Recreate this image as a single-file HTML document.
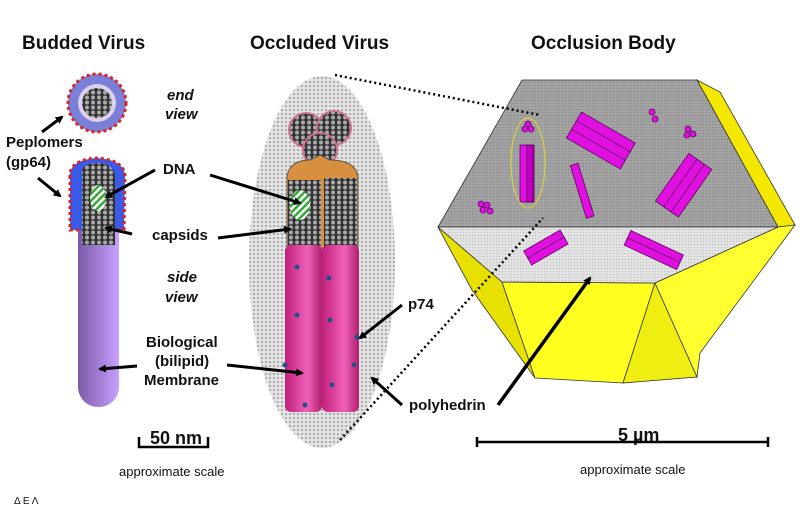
<!DOCTYPE html>
<html><head><meta charset="utf-8"><style>
html,body{margin:0;padding:0;background:#fff}
svg{display:block}
text{font-family:"Liberation Sans",Arial,sans-serif;fill:#111}
.t{font-size:19px;font-weight:bold}
.l{font-size:15px;font-weight:bold}
</style></head><body>
<svg width="800" height="522" viewBox="0 0 800 522" xmlns="http://www.w3.org/2000/svg">
<defs>
<pattern id="dots" width="4" height="4" patternUnits="userSpaceOnUse"><rect width="4" height="4" fill="#e8e8e8"/><circle cx="2" cy="2" r="1.3" fill="#b0b0b0"/></pattern>
<pattern id="dark" width="3" height="3" patternUnits="userSpaceOnUse"><rect width="3" height="3" fill="#a4a4a4"/><circle cx="1.5" cy="1.5" r="0.8" fill="#8a8a8a"/></pattern>
<pattern id="light" width="3" height="3" patternUnits="userSpaceOnUse"><rect width="3" height="3" fill="#e4e4e4"/><circle cx="1.5" cy="1.5" r="0.8" fill="#c4c4c4"/></pattern>
<pattern id="cap" width="6" height="5" patternUnits="userSpaceOnUse"><rect width="6" height="5" fill="#333"/><circle cx="3" cy="2.5" r="2" fill="#aaa"/></pattern>
<pattern id="stripe" width="5" height="5" patternUnits="userSpaceOnUse" patternTransform="rotate(45)"><rect width="5" height="5" fill="#fff"/><rect width="2.5" height="5" fill="#3a3"/></pattern>
<linearGradient id="pur" x1="0" x2="1"><stop offset="0" stop-color="#7a5aa8"/><stop offset="1" stop-color="#c8a0ff"/></linearGradient>
<linearGradient id="mag" x1="0" x2="1"><stop offset="0" stop-color="#c0207a"/><stop offset="0.6" stop-color="#f060b8"/><stop offset="1" stop-color="#b0206e"/></linearGradient>
<marker id="ar" markerWidth="8" markerHeight="8" refX="6" refY="4" orient="auto" markerUnits="userSpaceOnUse" viewBox="0 0 8 8"><path d="M0,0 L8,4 L0,8 z" fill="#000"/></marker>
</defs>

<text class="t" x="22" y="49">Budded Virus</text>
<text class="t" x="250" y="49">Occluded Virus</text>
<text class="t" x="531" y="49">Occlusion Body</text>

<circle cx="97" cy="103" r="29" fill="#7a80d8" stroke="#e02020" stroke-width="3" stroke-dasharray="3 3"/>
<circle cx="97" cy="103" r="19" fill="#dcd0ec"/>
<circle cx="97" cy="103" r="15" fill="url(#cap)"/>
<text x="167" y="100" class="l" font-style="italic">end</text>
<text x="165" y="119" class="l" font-style="italic">view</text>
<text x="167" y="282" class="l" font-style="italic">side</text>
<text x="165" y="302" class="l" font-style="italic">view</text>

<rect x="78" y="175" width="41" height="232" rx="20" fill="url(#pur)"/>
<path d="M70,178 Q68,160 97,158 Q126,160 125,178 L124,230 L70,230 z" fill="#3a5ae8" stroke="#e02020" stroke-width="3" stroke-dasharray="3 3"/>
<path d="M82,170 Q84,163 100,163 Q115,165 115,178 L115,245 L82,245 z" fill="url(#cap)"/>
<ellipse cx="98" cy="198" rx="8" ry="13" fill="url(#stripe)"/>

<text class="l" x="6" y="147">Peplomers</text>
<text class="l" x="6" y="167">(gp64)</text>
<line x1="42" y1="132" x2="62" y2="117" stroke="#000" stroke-width="3" marker-end="url(#ar)"/>
<line x1="38" y1="178" x2="60" y2="196" stroke="#000" stroke-width="3" marker-end="url(#ar)"/>

<ellipse cx="322" cy="262" rx="73" ry="186" fill="url(#dots)"/>
<circle cx="306" cy="130" r="17" fill="url(#cap)" stroke="#d07090" stroke-width="2"/>
<circle cx="334" cy="128" r="17" fill="url(#cap)" stroke="#d07090" stroke-width="2"/>
<circle cx="320" cy="150" r="17" fill="url(#cap)" stroke="#d07090" stroke-width="2"/>
<path d="M287,176 Q290,160 310,160 L320,155 L330,160 Q355,160 358,176 L358,248 L287,248 z" fill="#d89040" stroke="#555"/>
<rect x="288" y="180" width="33" height="68" fill="url(#cap)"/>
<rect x="324" y="178" width="33" height="70" fill="url(#cap)"/>
<ellipse cx="300" cy="205" rx="10" ry="15" fill="url(#stripe)"/>
<rect x="285" y="245" width="37" height="167" rx="6" fill="url(#mag)"/>
<rect x="322" y="245" width="37" height="167" rx="6" fill="url(#mag)"/>
<g fill="#24508a"><circle cx="297" cy="267" r="2.5"/><circle cx="329" cy="278" r="2.5"/><circle cx="297" cy="315" r="2.5"/><circle cx="330" cy="320" r="2.5"/><circle cx="357" cy="337" r="2.5"/><circle cx="285" cy="365" r="2.5"/><circle cx="354" cy="365" r="2.5"/><circle cx="332" cy="385" r="2.5"/><circle cx="305" cy="405" r="2.5"/></g>

<text class="l" x="163" y="174">DNA</text>
<line x1="155" y1="170" x2="106" y2="197" stroke="#000" stroke-width="3" marker-end="url(#ar)"/>
<line x1="210" y1="175" x2="300" y2="203" stroke="#000" stroke-width="3" marker-end="url(#ar)"/>
<text class="l" x="152" y="240">capsids</text>
<line x1="132" y1="234" x2="106" y2="228" stroke="#000" stroke-width="3" marker-end="url(#ar)"/>
<line x1="218" y1="238" x2="290" y2="229" stroke="#000" stroke-width="3" marker-end="url(#ar)"/>
<text class="l" x="146" y="347">Biological</text>
<text class="l" x="155" y="366">(bilipid)</text>
<text class="l" x="144" y="385">Membrane</text>
<line x1="137" y1="366" x2="100" y2="369" stroke="#000" stroke-width="3" marker-end="url(#ar)"/>
<line x1="227" y1="365" x2="302" y2="373" stroke="#000" stroke-width="3" marker-end="url(#ar)"/>
<text class="l" x="408" y="309">p74</text>
<line x1="402" y1="305" x2="360" y2="338" stroke="#000" stroke-width="3" marker-end="url(#ar)"/>
<text class="l" x="409" y="410">polyhedrin</text>
<line x1="402" y1="405" x2="372" y2="378" stroke="#000" stroke-width="3" marker-end="url(#ar)"/>

<polygon points="697,80 720,92 795,225 778,227" fill="#f4e800" stroke="#333" stroke-width="0.8"/>
<polygon points="438,227 502,282 535,378 472,290" fill="#e8e000" stroke="#333" stroke-width="0.8"/>
<polygon points="502,282 655,283 623,383 535,378" fill="#ffff20" stroke="#333" stroke-width="0.8"/>
<polygon points="655,283 697,377 623,383" fill="#eeee10" stroke="#333" stroke-width="0.8"/>
<polygon points="655,283 778,227 795,225 700,353 697,377" fill="#ffff30" stroke="#333" stroke-width="0.8"/>
<polygon points="522,80 697,80 778,227 438,227" fill="url(#dark)" stroke="#333" stroke-width="0.8"/>
<polygon points="438,227 778,227 655,283 502,282" fill="url(#light)" stroke="#333" stroke-width="0.8"/>
<g fill="#e010e0" stroke="#600060" stroke-width="0.8">
<rect x="520" y="145" width="14" height="57"/><rect x="527" y="145" width="6" height="57" fill="#c000c0"/>
<g transform="rotate(30 600 140)"><rect x="570" y="125" width="62" height="30"/><line x1="570" y1="135" x2="632" y2="135"/><line x1="570" y1="145" x2="632" y2="145"/></g>
<g transform="rotate(-17 583 190)"><rect x="578" y="163" width="8" height="55"/></g>
<g transform="rotate(-55 685 185)"><rect x="655" y="170" width="58" height="28"/><line x1="655" y1="180" x2="713" y2="180"/><line x1="655" y1="189" x2="713" y2="189"/></g>
<g transform="rotate(-30 545 248)"><rect x="525" y="240" width="42" height="16"/><line x1="525" y1="248" x2="567" y2="248"/></g>
<g transform="rotate(25 656 250)"><rect x="625" y="243" width="58" height="16"/><line x1="625" y1="251" x2="683" y2="251"/></g>
<circle cx="652" cy="112" r="3"/><circle cx="655" cy="119" r="3"/>
<circle cx="688" cy="129" r="3"/><circle cx="693" cy="134" r="3"/><circle cx="687" cy="135" r="3"/>
<circle cx="481" cy="204" r="3"/><circle cx="487" cy="205" r="3"/><circle cx="483" cy="210" r="3"/><circle cx="490" cy="211" r="3"/>
<circle cx="525" cy="129" r="3"/><circle cx="531" cy="129" r="3"/><circle cx="528" cy="124" r="3"/>
</g>
<ellipse cx="528" cy="163" rx="17" ry="45" fill="none" stroke="#d8d040" stroke-width="1.2"/>

<line x1="335" y1="75" x2="540" y2="115" stroke="#000" stroke-width="2.5" stroke-dasharray="2 3"/>
<line x1="340" y1="440" x2="543" y2="218" stroke="#000" stroke-width="2.5" stroke-dasharray="2 3"/>
<line x1="498" y1="405" x2="590" y2="278" stroke="#000" stroke-width="3.5" marker-end="url(#ar)"/>

<text x="150" y="444" font-size="18" font-weight="bold">50 nm</text>
<path d="M139,437 L139,447 L208,447 L208,437" fill="none" stroke="#000" stroke-width="2.5"/>
<text x="119" y="476" font-size="13">approximate scale</text>
<text x="14" y="504" font-size="10" font-family="Liberation Serif">Δ Ε Λ</text>
<text x="618" y="441" font-size="18" font-weight="bold">5 µm</text>
<path d="M477,437 L477,447 M477,442 L768,442 M768,437 L768,447" fill="none" stroke="#000" stroke-width="2.5"/>
<text x="580" y="474" font-size="13">approximate scale</text>
</svg>
</body></html>
